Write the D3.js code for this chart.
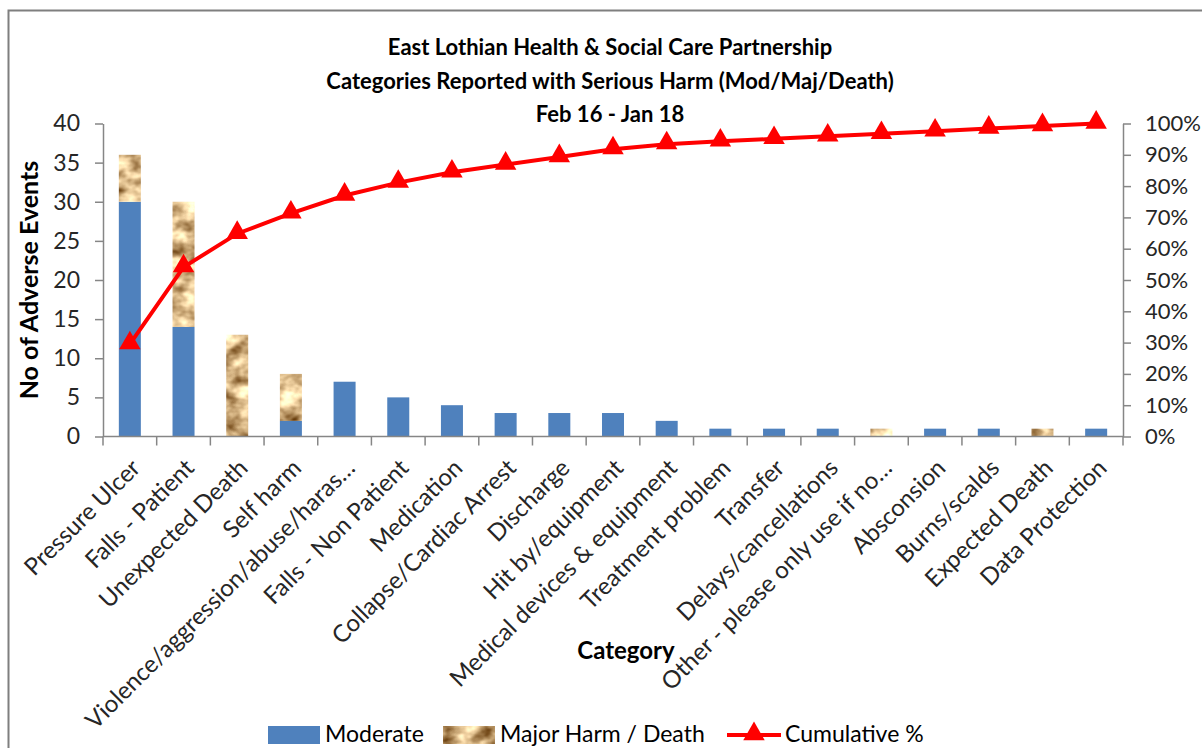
<!DOCTYPE html>
<html>
<head>
<meta charset="utf-8">
<script src="https://cdn.jsdelivr.net/npm/d3@7"></script>
<style>
  body { margin: 0; background: #fff; }
  svg { display: block; }
  .axis path, .axis line { stroke: #868686; }
  .axis text { font-family: Lato, 'Open Sans', sans-serif; font-size: 23px; fill: #262626; }
</style>
</head>
<body>
<div id="chart"></div>
<script>
const categories = ['Pressure Ulcer', 'Falls - Patient', 'Unexpected Death', 'Self harm',
  'Violence/aggression/abuse/haras\u2026', 'Falls - Non Patient', 'Medication', 'Collapse/Cardiac Arrest',
  'Discharge', 'Hit by/equipment', 'Medical devices & equipment', 'Treatment problem', 'Transfer',
  'Delays/cancellations', 'Other - please only use if no\u2026', 'Absconsion', 'Burns/scalds',
  'Expected Death', 'Data Protection'];
const moderate = [30, 14, 0, 2, 7, 5, 4, 3, 3, 3, 2, 1, 1, 1, 0, 1, 1, 0, 1];
const majorHarm = [6, 16, 13, 6, 0, 0, 0, 0, 0, 0, 0, 0, 0, 0, 1, 0, 0, 1, 0];
const cumulativePct = [29.5, 54.1, 64.8, 71.3, 77.0, 81.1, 84.4, 86.9, 89.3, 91.8,
  93.4, 94.3, 95.1, 95.9, 96.7, 97.5, 98.4, 99.2, 100];
const countTicks = [0, 5, 10, 15, 20, 25, 30, 35, 40];
const pctTicks = [0, 10, 20, 30, 40, 50, 60, 70, 80, 90, 100];
const titleLines = ['East Lothian Health & Social Care Partnership',
  'Categories Reported with Serious Harm (Mod/Maj/Death)', 'Feb 16 - Jan 18'];

const w = 1202, h = 748;
const margin = {top: 123.5, right: 79, bottom: 311.5, left: 103};
const font = "Lato, 'Open Sans', sans-serif";

const svg = d3.select('#chart').append('svg')
  .attr('width', w)
  .attr('height', h);

// marbled tan texture for the major harm series
const defs = svg.append('defs');
const filt = defs.append('filter').attr('id', 'marble')
  .attr('x', 0).attr('y', 0).attr('width', 1).attr('height', 1)
  .attr('color-interpolation-filters', 'sRGB');
filt.append('feTurbulence')
  .attr('type', 'fractalNoise')
  .attr('baseFrequency', '0.05 0.07')
  .attr('numOctaves', 3)
  .attr('seed', 4)
  .attr('result', 'noise');
filt.append('feColorMatrix')
  .attr('in', 'noise')
  .attr('type', 'matrix')
  .attr('values', '1.15 0 0 0 0.26  1.25 0 0 0 0.08  1.25 0 0 0 -0.11  0 0 0 0 1')
  .attr('result', 'col');
filt.append('feComposite')
  .attr('in', 'col')
  .attr('in2', 'SourceGraphic')
  .attr('operator', 'in');

// chart border
svg.append('rect')
  .attr('x', 8.5).attr('y', 10.5)
  .attr('width', 1210).attr('height', 760)
  .attr('fill', 'none')
  .attr('stroke', '#7f7f7f')
  .attr('stroke-width', 2);

const xScale = d3.scaleBand()
  .domain(categories)
  .range([margin.left, w - margin.right])
  .paddingInner(0.59)
  .paddingOuter(0.295);

const yScale = d3.scaleLinear()
  .domain([0, 40])
  .range([h - margin.bottom, margin.top]);

const yPercent = d3.scaleLinear()
  .domain([0, 100])
  .range([h - margin.bottom, margin.top]);

const rows = categories.map((c, i) => ({cat: c, moderate: moderate[i], major: majorHarm[i]}));
const stacked = d3.stack().keys(['moderate', 'major'])(rows);
const fills = {moderate: '#4f81bd', major: '#d8b88e'};

stacked.forEach(layer => {
  svg.append('g')
    .selectAll('rect')
    .data(layer.filter(d => d[1] > d[0]))
    .enter()
    .append('rect')
    .attr('x', d => xScale(d.data.cat))
    .attr('y', d => yScale(d[1]))
    .attr('width', xScale.bandwidth())
    .attr('height', d => yScale(d[0]) - yScale(d[1]))
    .attr('fill', fills[layer.key])
    .attr('filter', layer.key === 'major' ? 'url(#marble)' : null);
});

// axes
const band = (w - margin.right - margin.left) / categories.length;
const xAxis = svg.append('g')
  .attr('class', 'axis')
  .attr('transform', 'translate(0,' + (h - margin.bottom) + ')');
xAxis.append('line')
  .attr('x1', margin.left).attr('x2', w - margin.right)
  .attr('stroke-width', 1.5);
xAxis.selectAll('.tk')
  .data(d3.range(categories.length + 1))
  .enter()
  .append('line')
  .attr('class', 'tk')
  .attr('x1', i => margin.left + i * band)
  .attr('x2', i => margin.left + i * band)
  .attr('y1', 0).attr('y2', 9)
  .attr('stroke-width', 1.5);

xAxis.selectAll('.lbl')
  .data(categories)
  .enter()
  .append('text')
  .attr('class', 'lbl')
  .attr('transform', d => 'translate(' + (xScale(d) + xScale.bandwidth() / 2 + 6) + ',27) rotate(-45)')
  .attr('text-anchor', 'end')
  .attr('dy', '0.35em')
  .style('font-family', font)
  .style('font-size', '24px')
  .attr('fill', '#1a1a1a')
  .text(d => d);

svg.append('g')
  .attr('class', 'axis')
  .attr('transform', 'translate(' + margin.left + ',0)')
  .call(d3.axisLeft(yScale).tickValues(countTicks).tickSize(8).tickPadding(15).tickSizeOuter(0))
  .call(g => g.selectAll('path, line').attr('stroke-width', 1.5));

svg.append('g')
  .attr('class', 'axis')
  .attr('transform', 'translate(' + (w - margin.right) + ',0)')
  .call(d3.axisRight(yPercent).tickValues(pctTicks).tickFormat(d => d + '%').tickSize(8).tickPadding(14).tickSizeOuter(0))
  .call(g => g.selectAll('path, line').attr('stroke-width', 1.5))
  .call(g => g.selectAll('text').style('font-size', '22px'));

// cumulative line
const cx = d => xScale(d.cat) + xScale.bandwidth() / 2;
const lineData = categories.map((c, i) => ({cat: c, pct: cumulativePct[i]}));
svg.append('path')
  .datum(lineData)
  .attr('d', d3.line().x(cx).y(d => yPercent(d.pct)))
  .attr('fill', 'none')
  .attr('stroke', '#ff0000')
  .attr('stroke-width', 4);

const tri = d3.symbol().type(d3.symbolTriangle).size(200);
svg.append('g')
  .selectAll('path')
  .data(lineData)
  .enter()
  .append('path')
  .attr('transform', d => 'translate(' + cx(d) + ',' + (yPercent(d.pct) - 1) + ')')
  .attr('d', tri)
  .attr('fill', '#ff0000');

// titles
svg.append('g')
  .selectAll('text')
  .data(titleLines)
  .enter()
  .append('text')
  .attr('x', 610)
  .attr('y', (d, i) => 55 + i * 33.5)
  .attr('text-anchor', 'middle')
  .style('font-family', font)
  .style('font-weight', 'bold')
  .style('font-size', '22px')
  .attr('fill', '#000')
  .text(d => d);

svg.append('text')
  .attr('transform', 'translate(38,280) rotate(-90)')
  .attr('text-anchor', 'middle')
  .style('font-family', font)
  .style('font-weight', 'bold')
  .style('font-size', '25px')
  .text('No of Adverse Events');

svg.append('text')
  .attr('x', 626)
  .attr('y', 659)
  .attr('text-anchor', 'middle')
  .style('font-family', font)
  .style('font-weight', 'bold')
  .style('font-size', '24px')
  .text('Category');

// legend
const lg = svg.append('g').style('font-family', font).style('font-size', '23px');
lg.append('rect').attr('x', 268).attr('y', 726).attr('width', 52).attr('height', 18).attr('fill', fills.moderate);
lg.append('text').attr('x', 325).attr('y', 742).text('Moderate');
lg.append('rect').attr('x', 443).attr('y', 726).attr('width', 52).attr('height', 18).attr('fill', fills.major).attr('filter', 'url(#marble)');
lg.append('text').attr('x', 500).attr('y', 742).text('Major Harm / Death');
lg.append('line').attr('x1', 727).attr('x2', 781).attr('y1', 735).attr('y2', 735).attr('stroke', '#ff0000').attr('stroke-width', 4);
lg.append('path').attr('transform', 'translate(754,734)').attr('d', tri).attr('fill', '#ff0000');
lg.append('text').attr('x', 785).attr('y', 742).text('Cumulative %');
</script>
</body>
</html>
